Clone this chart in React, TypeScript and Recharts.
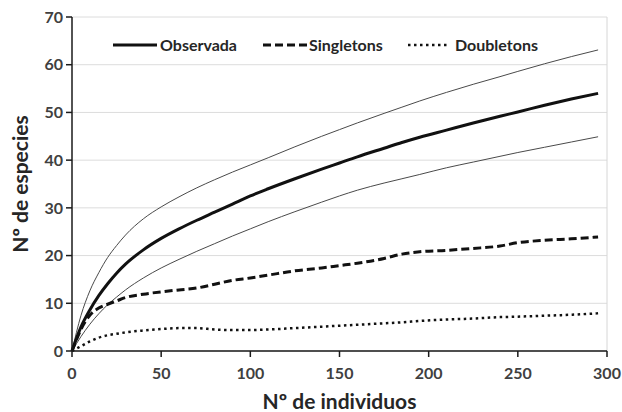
import React from 'react';
import { LineChart, Line, XAxis, YAxis, CartesianGrid, ReferenceLine } from 'recharts';

const individuos = [0, 5, 10, 15, 20, 25, 30, 40, 50, 60, 70, 80, 90, 100, 110, 125, 140, 150, 160, 175, 185, 195, 210, 225, 240, 250, 265, 280, 295];
const observada = [0, 5.0, 8.6, 11.6, 14.1, 16.3, 18.2, 21.2, 23.6, 25.6, 27.4, 29.1, 30.8, 32.5, 34, 36.1, 38.1, 39.4, 40.7, 42.5, 43.7, 44.8, 46.3, 47.8, 49.2, 50.1, 51.5, 52.8, 54];
const superior = [0, 7.4, 12.6, 16.4, 19.6, 22.1, 24.3, 27.7, 30.2, 32.3, 34.2, 35.9, 37.5, 39.0, 40.5, 42.8, 45.0, 46.4, 47.8, 49.8, 51.1, 52.4, 54.2, 55.9, 57.5, 58.6, 60.2, 61.7, 63.1];
const inferior = [0, 3, 5.6, 7.8, 9.7, 11.3, 12.8, 15.3, 17.4, 19.2, 20.9, 22.5, 24.1, 25.6, 27.1, 29.2, 31.2, 32.5, 33.7, 35.2, 36.1, 37.0, 38.4, 39.6, 40.8, 41.6, 42.7, 43.8, 44.9];
const singletons = [0, 4.5, 7.5, 9, 9.8, 10.5, 11.2, 11.9, 12.4, 12.8, 13.2, 14, 14.8, 15.3, 15.9, 16.8, 17.4, 17.9, 18.4, 19.4, 20.3, 20.8, 21.1, 21.5, 22, 22.7, 23.2, 23.5, 23.9];
const doubletons = [0, 1, 2, 2.8, 3.3, 3.6, 3.9, 4.3, 4.6, 4.8, 4.8, 4.5, 4.4, 4.4, 4.5, 4.8, 5.1, 5.3, 5.5, 5.8, 6.0, 6.3, 6.6, 6.8, 7.1, 7.2, 7.4, 7.6, 7.9];

const xTicks = [0, 50, 100, 150, 200, 250, 300];
const yTicks = [0, 10, 20, 30, 40, 50, 60, 70];

const data = individuos.map((x, i) => ({
  x,
  observada: observada[i],
  superior: superior[i],
  inferior: inferior[i],
  singletons: singletons[i],
  doubletons: doubletons[i],
}));

const FONT = 'Lato, "Liberation Sans", sans-serif';

const legendItems = [
  { name: 'Observada', dash: undefined as string | undefined, width: 3, sample: 44, gapText: 3, left: 113 },
  { name: 'Singletons', dash: '8 4', width: 3, sample: 44, gapText: 2, left: 263 },
  { name: 'Doubletons', dash: '2.5 3.5', width: 2.5, sample: 40, gapText: 7, left: 408 },
];

const LegendBox = () => (
  <>
    {legendItems.map((it) => (
      <div
        key={it.name}
        style={{ position: 'absolute', top: 35, left: it.left, display: 'flex', alignItems: 'center', fontFamily: FONT, fontWeight: 700, fontSize: 16, color: '#262626', lineHeight: '20px', whiteSpace: 'nowrap' }}
      >
        <svg width={it.sample} height={10} style={{ marginRight: it.gapText }}>
          <line x1={0} y1={5} x2={it.sample} y2={5} stroke="#111" strokeWidth={it.width} strokeDasharray={it.dash} />
        </svg>
        <span>{it.name}</span>
      </div>
    ))}
  </>
);

export default function App() {
  return (
    <div style={{ position: 'absolute', left: 0, top: 0, width: 622, height: 412, background: '#fff' }}>
      <LineChart width={622} height={412} data={data} margin={{ top: 17, right: 15, bottom: 0, left: 0 }}>
        <CartesianGrid vertical={false} stroke="#dcdcdc" strokeWidth={1} />
        <ReferenceLine x={300} stroke="#d6d6d6" strokeWidth={1} />
        <XAxis
          dataKey="x"
          type="number"
          domain={[0, 300]}
          ticks={xTicks}
          height={61}
          tickSize={6}
          tickMargin={11}
          axisLine={{ stroke: '#1a1a1a', strokeWidth: 1.5 }}
          tickLine={{ stroke: '#1a1a1a', strokeWidth: 1.5 }}
          tick={{ fill: '#404040', fontSize: 16, fontWeight: 700, fontFamily: FONT }}
          label={{ value: 'Nº de individuos', position: 'insideBottom', offset: 3, fill: '#262626', fontSize: 21, fontWeight: 700, fontFamily: FONT }}
        />
        <YAxis
          type="number"
          domain={[0, 70]}
          ticks={yTicks}
          width={72}
          tickSize={6}
          tickMargin={3}
          axisLine={{ stroke: '#1a1a1a', strokeWidth: 1.5 }}
          tickLine={{ stroke: '#1a1a1a', strokeWidth: 1.5 }}
          tick={{ fill: '#404040', fontSize: 16, fontWeight: 700, fontFamily: FONT }}
          label={{ value: 'Nº de especies', angle: -90, position: 'center', dx: -15, fill: '#262626', fontSize: 21, fontWeight: 700, fontFamily: FONT }}
        />
        <Line type="monotone" dataKey="superior" stroke="#4a4a4a" strokeWidth={1} dot={false} isAnimationActive={false} />
        <Line type="monotone" dataKey="inferior" stroke="#4a4a4a" strokeWidth={1} dot={false} isAnimationActive={false} />
        <Line type="monotone" dataKey="doubletons" stroke="#111" strokeWidth={2.5} strokeDasharray="2.5 3.5" dot={false} isAnimationActive={false} />
        <Line type="monotone" dataKey="singletons" stroke="#111" strokeWidth={3} strokeDasharray="8 4" dot={false} isAnimationActive={false} />
        <Line type="monotone" dataKey="observada" stroke="#111" strokeWidth={3} dot={false} isAnimationActive={false} />
      </LineChart>
      <LegendBox />
    </div>
  );
}
